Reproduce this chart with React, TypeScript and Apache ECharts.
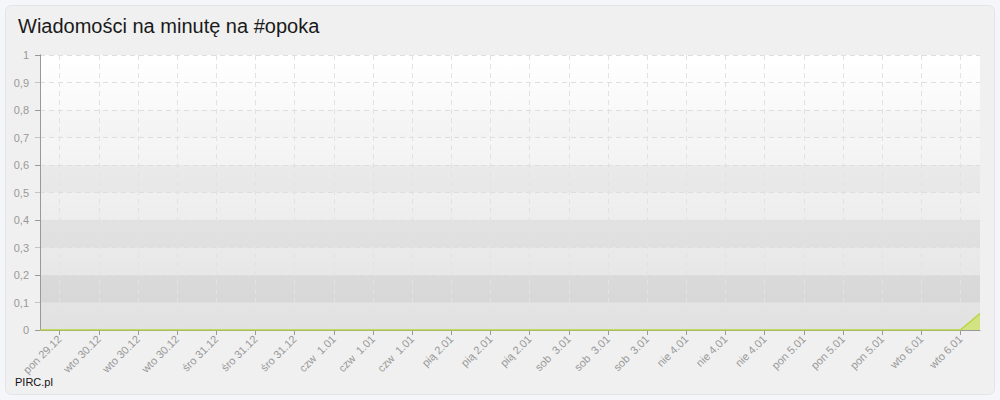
import { useEffect, useRef } from 'react'
import * as echarts from 'echarts'

// hours counted from pon 29.12 12:00
const tickHours = [4, 12, 20, 28, 36, 44, 52, 60, 68, 76, 84, 92, 100, 108, 116, 124, 132, 140, 148, 156, 164, 172, 180, 188]
const tickLabels = [
  'pon 29.12', 'wto 30.12', 'wto 30.12', 'wto 30.12',
  'śro 31.12', 'śro 31.12', 'śro 31.12',
  'czw  1.01', 'czw  1.01', 'czw  1.01',
  'pią 2.01', 'pią 2.01', 'pią 2.01',
  'sob  3.01', 'sob  3.01', 'sob  3.01',
  'nie 4.01', 'nie 4.01', 'nie 4.01',
  'pon 5.01', 'pon 5.01', 'pon 5.01',
  'wto 6.01', 'wto 6.01'
]
const messageHours = [0, 188, 192]
const messagesPerMinute = [0, 0, 0.06]

const FONT = '"Liberation Sans", Arial, sans-serif'

export default function App() {
  const ref = useRef<HTMLDivElement | null>(null)

  useEffect(() => {
    if (!ref.current) return
    const chart = echarts.init(ref.current, null, { renderer: 'svg' })

    const labelFor: Record<number, string> = {}
    tickHours.forEach((h, i) => { labelFor[h] = tickLabels[i] })

    const option = {
      animation: false,
      backgroundColor: '#f5f6f9',
      textStyle: { fontFamily: FONT },
      title: {
        text: 'Wiadomości na minutę na #opoka',
        left: 18,
        top: 16,
        padding: 0,
        textStyle: { fontSize: 20, fontWeight: 'normal', color: '#1a1a1a', fontFamily: FONT }
      },
      graphic: [
        {
          type: 'rect',
          z: -10,
          shape: { x: 5.5, y: 5.5, width: 989, height: 389, r: 6 },
          style: { fill: '#f0f0f0', stroke: '#e3e4e8', lineWidth: 1 }
        },
        {
          type: 'text',
          left: 15,
          top: 376,
          style: { text: 'PIRC.pl', fill: '#111', font: `11px ${FONT}` }
        }
      ],
      grid: {
        left: 40,
        right: 20,
        top: 55,
        bottom: 70,
        show: true,
        borderWidth: 0,
        backgroundColor: new echarts.graphic.LinearGradient(0, 0, 0, 1, [
          { offset: 0, color: '#ffffff' },
          { offset: 1, color: '#e1e1e1' }
        ])
      },
      xAxis: {
        type: 'value',
        min: 0,
        max: 192,
        interval: 4,
        axisLine: { show: true, lineStyle: { color: '#999', width: 1 } },
        axisTick: { show: true, length: 5, lineStyle: { color: '#999' }, customValues: tickHours },
        axisLabel: {
          customValues: tickHours,
          rotate: 45,
          margin: 7,
          color: '#999',
          fontSize: 11,
          fontFamily: FONT,
          formatter: (v: number) => labelFor[v] ?? ''
        },
        splitLine: { show: true, lineStyle: { color: '#e2e2e2', type: [5, 4], width: 1 } }
      },
      yAxis: [
        {
          type: 'value',
          min: 0,
          max: 1,
          interval: 0.1,
          axisLine: { show: true, lineStyle: { color: '#999', width: 1 } },
          axisTick: { show: true, length: 5, lineStyle: { color: '#c4c4c4' } },
          axisLabel: {
            margin: 11,
            color: '#999',
            fontSize: 11,
            fontFamily: FONT,
            formatter: (v: number) => String(Math.round(v * 10) / 10).replace('.', ',')
          },
          splitLine: { show: true, lineStyle: { color: '#dedede', type: [5, 4], width: 1 } },
          splitArea: {
            show: true,
            areaStyle: {
              color: [
                'rgba(0,0,0,0)', 'rgba(0,0,0,0.055)',
                'rgba(0,0,0,0)', 'rgba(0,0,0,0.045)',
                'rgba(0,0,0,0)', 'rgba(0,0,0,0.035)',
                'rgba(0,0,0,0)', 'rgba(0,0,0,0.01)',
                'rgba(0,0,0,0)', 'rgba(0,0,0,0)'
              ]
            }
          }
        },
        {
          type: 'value',
          min: 0,
          max: 1,
          interval: 0.2,
          position: 'left',
          axisLine: { show: true, lineStyle: { color: '#999', width: 1 } },
          axisTick: { show: true, length: 5, lineStyle: { color: '#999' } },
          axisLabel: { show: false },
          splitLine: { show: false }
        }
      ],
      series: [
        {
          type: 'line',
          yAxisIndex: 0,
          symbol: 'none',
          data: messageHours.map((h, i) => [h, messagesPerMinute[i]]),
          lineStyle: { color: '#b6d63b', width: 1.5 },
          areaStyle: { color: '#d2e482', opacity: 1 },
          z: 3
        }
      ]
    }

    chart.setOption(option)
    return () => chart.dispose()
  }, [])

  return (
    <div
      ref={ref}
      style={{ position: 'absolute', left: 0, top: 0, width: 1000, height: 400 }}
    />
  )
}
